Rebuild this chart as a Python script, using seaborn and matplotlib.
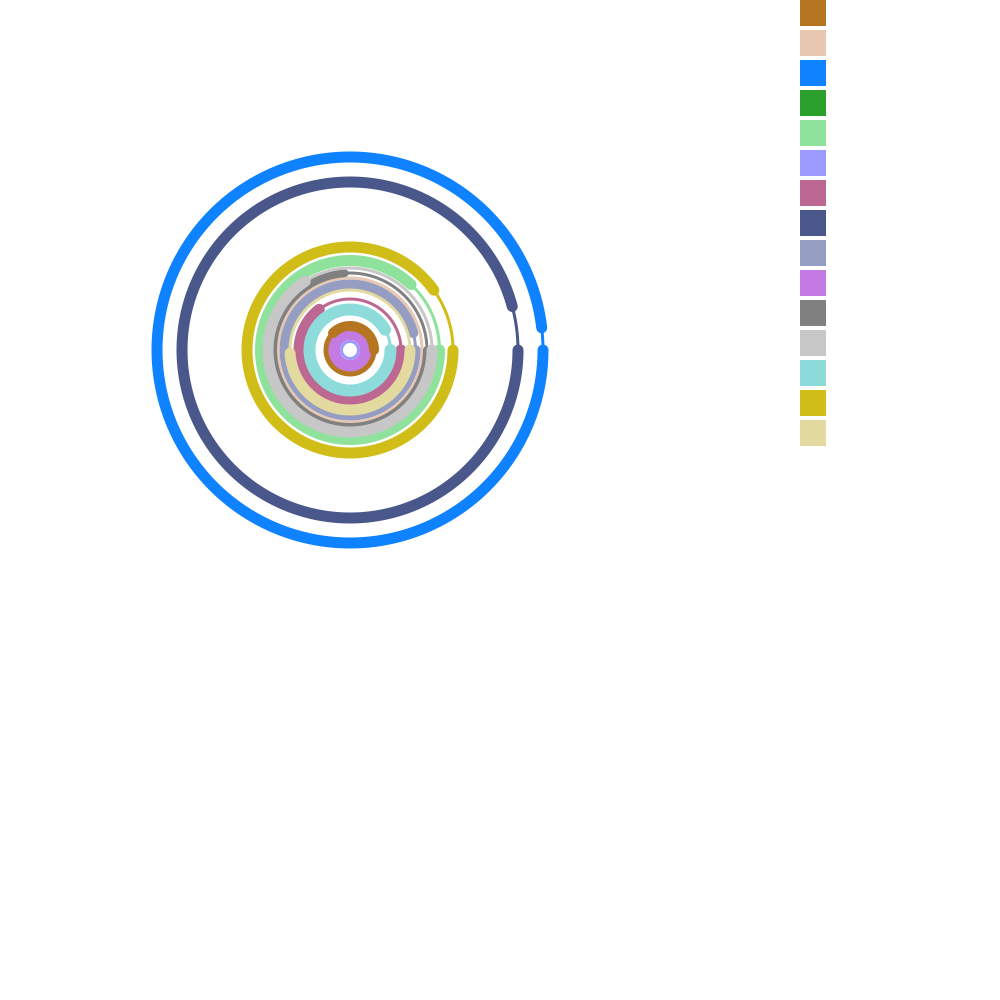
import numpy as np
import pandas as pd
import matplotlib
matplotlib.use("Agg")
import matplotlib.pyplot as plt
from matplotlib.patches import Patch
import seaborn as sns

# ---------------- data ----------------
series = ["s01", "s02", "s03", "s04", "s05", "s06", "s07", "s08",
          "s09", "s10", "s11", "s12", "s13", "s14", "s15"]
colors = ["#B67621", "#E8C8B0", "#0F82FF", "#2CA02C", "#8EE29B",
          "#9A9AFF", "#BC6892", "#4A578A", "#959DC3", "#C37AE3",
          "#808080", "#C7C7C7", "#8DDCDB", "#D0BD18", "#E3DAA0"]
# ring radius (value) for every series; nan = nothing drawn
radius = [24, 72, 193, np.nan, 89.5, 8.5, 51, 168, 65.5, 16, 77, 82, 40.5, 103, 60]
# highlighted arc of each ring: start / end angle in degrees (nan = none)
arc_start = [0, np.nan, 6.6, np.nan, 47, np.nan, 127, 15, 15, 0, 94, 123, 30, 35.5, 183]
arc_end = [135, np.nan, 360, np.nan, 360, np.nan, 360, 360, 360, 360, 360, 360, 360, 360, 360]

# ---------------- styles (pixels) ----------------
thick_px = [10, 3, 11, 11, 11, 3, 11, 11, 10, 12, 8, 11, 12, 11, 11]
thin_px = [5, 3, 3, 3, 3, 3, 3, 3, 3, 3, 3, 3, 3, 3, 3]
layer = [10, 1, 2, 3, 4, 5, 6, 7, 8, 9, 11, 12, 13, 14, 15]
PX = 72 / 100.0  # points per pixel at dpi 100

sns.set_theme(style="white")
fig = plt.figure(figsize=(10, 10), dpi=100)
fig.patch.set_facecolor("white")
ax = fig.add_axes([0.10, 0.40, 0.50, 0.50], projection="polar")
ax.set_ylim(0, 250)
ax.axis("off")

for i in sorted(range(len(series)), key=lambda k: layer[k]):
    r = radius[i]
    if np.isnan(r):
        continue
    # full thin track
    th = np.radians(np.linspace(0, 360, 721))
    df = pd.DataFrame({"theta": th, "r": np.full(th.size, r)})
    sns.lineplot(data=df, x="theta", y="r", ax=ax, color=colors[i],
                 linewidth=thin_px[i] * PX, sort=False, estimator=None,
                 legend=False, solid_capstyle="round", zorder=layer[i])
    # thick value arc
    if not np.isnan(arc_start[i]):
        th2 = np.radians(np.linspace(arc_start[i], arc_end[i], 400))
        df2 = pd.DataFrame({"theta": th2, "r": np.full(th2.size, r)})
        sns.lineplot(data=df2, x="theta", y="r", ax=ax, color=colors[i],
                     linewidth=thick_px[i] * PX, sort=False, estimator=None,
                     legend=False, solid_capstyle="round", zorder=layer[i])

ax.set_xlabel("")
ax.set_ylabel("")
ax.set_ylim(0, 250)

handles = [Patch(facecolor=c, edgecolor="none") for c in colors]
fig.legend(handles, [""] * len(handles), loc="upper left",
           bbox_to_anchor=(0.8, 1.0), frameon=False, fontsize=10,
           handlelength=1.872, handleheight=2.503, labelspacing=0.288,
           borderpad=0, borderaxespad=0, handletextpad=0.4)

fig.savefig("out.png", dpi=100, facecolor="white")
